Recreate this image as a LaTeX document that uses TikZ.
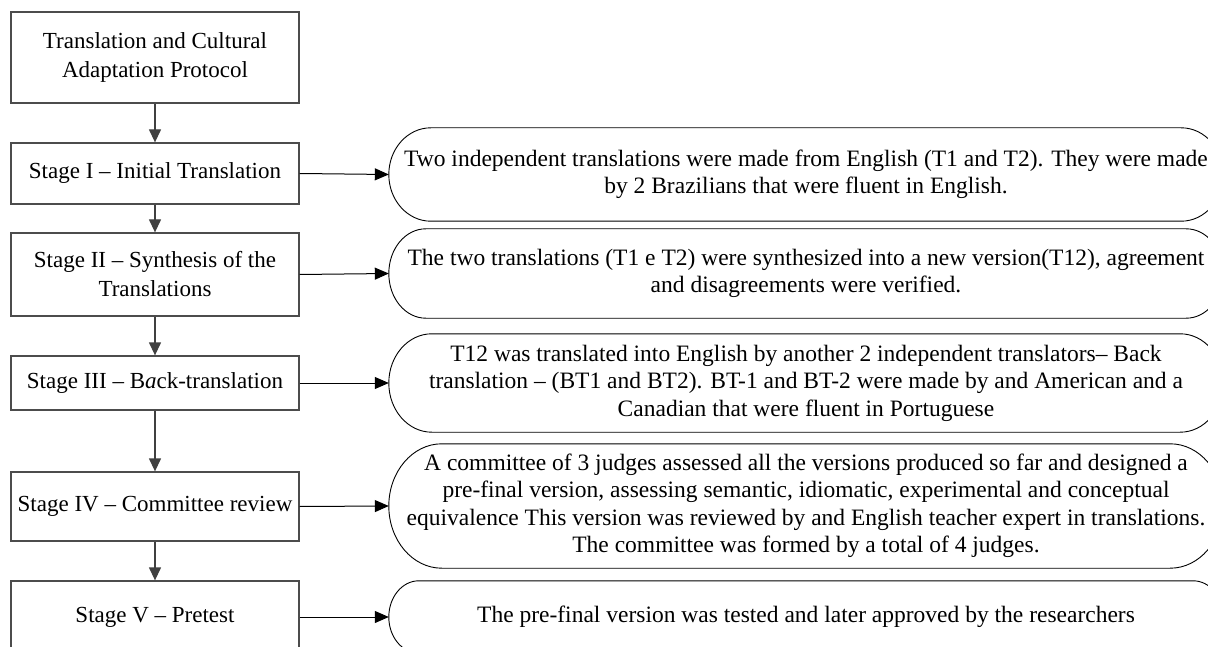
\documentclass[tikz,border=0pt]{standalone}
\usepackage{fontspec}
\setmainfont{Liberation Serif}
\usetikzlibrary{arrows.meta,calc}
\tikzset{
  stagebox/.style={draw=black!70, line width=1.3pt, minimum width=288pt, align=center,
    inner sep=0pt, font=\fontsize{23}{29}\selectfont},
  note/.style={align=center, inner sep=0pt, minimum width=834pt, font=\fontsize{23.5}{27.5}\selectfont},
  outline/.style={draw=black, line width=0.9pt},
  flow/.style={draw=black!75, line width=1.3pt, -{Triangle[length=13pt,width=12pt]}},
  link/.style={draw=black, line width=1pt, -{Triangle[length=14pt,width=12pt]}},
}
\newcommand\termoutline[2]{%
  \draw[outline] let \p1=(#1.north west), \p2=(#1.south east), \n1={(\y1-\y2)/2} in
    (\x1+#2pt,\y1) -- (\x2-#2pt,\y1)
    arc[start angle=90,end angle=-90,x radius=#2pt,y radius=\n1]
    -- (\x1+#2pt,\y2)
    arc[start angle=270,end angle=90,x radius=#2pt,y radius=\n1] -- cycle;}
\begin{document}
\begin{tikzpicture}[x=1pt,y=-1pt]
\clip (0,0) rectangle (1208,647);
\fill[white] (0,0) rectangle (1208,647);

% left column
\node[stagebox, minimum height=91pt] (s0) at (155,57.5) {Translation and Cultural\\Adaptation Protocol};
\node[stagebox, minimum height=61pt] (s1) at (155,173.5) {Stage I -- Initial Translation};
\node[stagebox, minimum height=83pt] (s2) at (155,274.5) {Stage II -- Synthesis of the\\Translations};
\node[stagebox, minimum height=54pt] (s3) at (155,383) {Stage III -- B\textit{a}ck-translation};
\node[stagebox, minimum height=69pt] (s4) at (155,506.5) {Stage IV -- Committee review};
\node[stagebox, minimum height=72pt] (s5) at (155,617) {Stage V -- Pretest};

% right column
\node[note, minimum height=93pt] (r1) at (806,174.5)
  {Two independent translations were made from English (T1 and T2). They were made\\by 2 Brazilians that were fluent in English.};
\node[note, minimum height=89pt] (r2) at (806,273.5)
  {The two translations (T1 e T2) were synthesized into a new version(T12), agreement\\and disagreements were verified.};
\node[note, minimum height=98pt] (r3) at (806,383)
  {T12 was translated into English by another 2 independent translators-- Back\\translation -- (BT1 and BT2). BT-1 and BT-2 were made by and American and a\\Canadian that were fluent in Portuguese};
\node[note, minimum height=124pt] (r4) at (806,506)
  {A committee of 3 judges assessed all the versions produced so far and designed a\\pre-final version, assessing semantic, idiomatic, experimental and conceptual\\equivalence This version was reviewed by and English teacher expert in translations.\\The committee was formed by a total of 4 judges.};
\node[note, minimum height=72pt] (r5) at (806,617)
  {The pre-final version was tested and later approved by the researchers};

\termoutline{r1}{42}
\termoutline{r2}{37}
\termoutline{r3}{43}
\termoutline{r4}{53}
\termoutline{r5}{30}

% connectors
\draw[flow] (s0) -- (s1);
\draw[flow] (s1) -- (s2);
\draw[flow] (s2) -- (s3);
\draw[flow] (s3) -- (s4);
\draw[flow] (s4) -- (s5);
\draw[link] (s1.east) -- (r1.west);
\draw[link] (s2.east) -- (r2.west);
\draw[link] (s3.east) -- (r3.west);
\draw[link] (s4.east) -- (r4.west);
\draw[link] (s5.east) -- (r5.west);
\end{tikzpicture}
\end{document}
